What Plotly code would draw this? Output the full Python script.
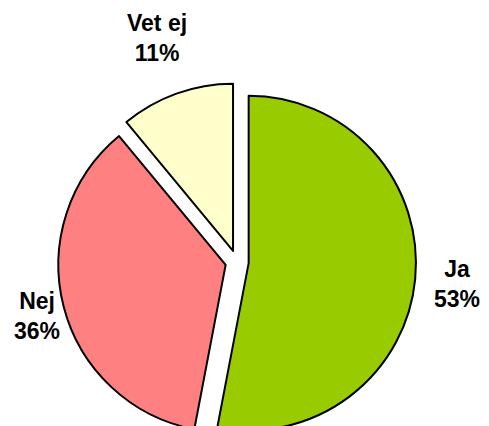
import plotly.graph_objects as go

labels = ["Ja", "Nej", "Vet ej"]
values = [53, 36, 11]
colors = ["#99CC00", "#FF8080", "#FFFFCC"]
pulls = [0.07, 0.07, 0.07]

W, H = 489, 452

fig = go.Figure(
    go.Pie(
        labels=labels,
        values=values,
        sort=False,
        direction="clockwise",
        rotation=0,
        pull=pulls,
        marker=dict(colors=colors, line=dict(color="black", width=2)),
        textinfo="none",
        hoverinfo="label+percent",
        showlegend=False,
        domain=dict(x=[58 / W, 416 / W], y=[(190 - 179) / H, (190 + 179) / H]),
    )
)

# label positions (pixels from top-left) for each slice
label_pos = [(457, 284), (37, 316), (157, 38)]
total = sum(values)
for lab, val, (px, py) in zip(labels, values, label_pos):
    fig.add_annotation(
        x=px / W, y=(H - py) / H, xref="paper", yref="paper",
        text=f"<b>{lab}<br>{round(val / total * 100)}%</b>",
        showarrow=False, xanchor="center", yanchor="middle",
        font=dict(family="Liberation Sans, Arial", size=23, color="black"),
    )

fig.update_layout(
    width=W, height=H,
    margin=dict(l=0, r=0, t=0, b=0),
    paper_bgcolor="white", plot_bgcolor="white",
)

fig.write_html(
    "out.html",
    config={"displayModeBar": False},
    post_script="document.body.style.margin='0';document.body.style.overflow='hidden';",
)
